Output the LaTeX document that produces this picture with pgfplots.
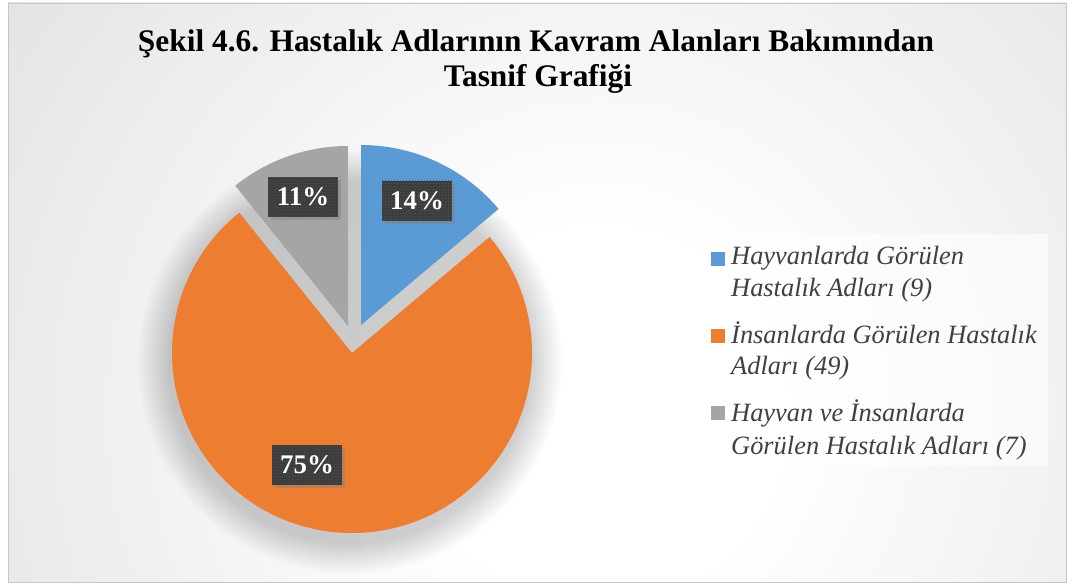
\documentclass[border=0pt]{standalone}
\usepackage{pgfplots}
\pgfplotsset{compat=1.18}
\usepackage{pgfplotstable}
\usepackage{fontspec}
\setmainfont{Liberation Serif}
\usetikzlibrary{shadows,patterns}
\definecolor{cblue}{HTML}{5B9BD5}
\definecolor{corange}{HTML}{ED7D31}
\definecolor{cgray}{HTML}{A5A5A5}
\definecolor{boxc}{HTML}{3D3D3D}
\definecolor{boxdot}{HTML}{585858}
\definecolor{legtext}{HTML}{404040}
\definecolor{bgout}{HTML}{BCBCBC}
\pgfdeclareradialshading{bgshade}{\pgfpoint{0bp}{0bp}}{color(0bp)=(white); color(6bp)=(white); color(50bp)=(bgout)}

% values and explode offsets (in bp) of the three slices
\pgfplotstableread{
name value dx dy
Hayvan 9 9 28
Insan 49 0 0
Ortak 7 -4 27
}\piedata

\pgfplotstablegetelem{0}{value}\of\piedata\edef\va{\pgfplotsretval}
\pgfplotstablegetelem{1}{value}\of\piedata\edef\vb{\pgfplotsretval}
\pgfplotstablegetelem{2}{value}\of\piedata\edef\vc{\pgfplotsretval}
\pgfplotstablegetelem{0}{dx}\of\piedata\edef\dxa{\pgfplotsretval}
\pgfplotstablegetelem{0}{dy}\of\piedata\edef\dya{\pgfplotsretval}
\pgfplotstablegetelem{1}{dx}\of\piedata\edef\dxb{\pgfplotsretval}
\pgfplotstablegetelem{1}{dy}\of\piedata\edef\dyb{\pgfplotsretval}
\pgfplotstablegetelem{2}{dx}\of\piedata\edef\dxc{\pgfplotsretval}
\pgfplotstablegetelem{2}{dy}\of\piedata\edef\dyc{\pgfplotsretval}
\pgfmathsetmacro\total{\va+\vb+\vc}
\pgfmathsetmacro\aone{90-360*(\va/\total)}
\pgfmathsetmacro\atwo{\aone-360*(\vb/\total)}
\pgfmathsetmacro\athree{\atwo-360*(\vc/\total)}
\def\cx{352}\def\cy{231}\def\R{180}
\pgfmathsetmacro\ax{\cx+\dxa}\pgfmathsetmacro\ay{\cy+\dya}
\pgfmathsetmacro\bx{\cx+\dxb}\pgfmathsetmacro\by{\cy+\dyb}
\pgfmathsetmacro\gx{\cx+\dxc}\pgfmathsetmacro\gy{\cy+\dyc}

\begin{document}
\begin{tikzpicture}
\useasboundingbox (0,0) rectangle (1072bp,584bp);
\fill[white] (0,0) rectangle (1072bp,584bp);
\begin{scope}
\clip (8bp,2bp) rectangle (1066bp,581bp);
\shade[shading=bgshade] (600bp,170bp) circle (760bp);
% soft shadow of the pie
\foreach \k in {1,...,16}{
  \fill[black, opacity=0.012] (350bp,222bp) circle[radius={(180+2*\k)*1bp}];
}
\end{scope}
\draw[color=black!22, line width=0.8bp] (8bp,2bp) rectangle (1066bp,581bp);

\begin{axis}[at={(0,0)}, anchor=south west, scale only axis,
  width=1072bp, height=584bp, xmin=0, xmax=1072, ymin=0, ymax=584,
  hide axis, clip=false]
% slices
\fill[corange] (axis cs:\bx,\by) -- ++(\aone:\R bp) arc[start angle=\aone, end angle=\atwo, radius=\R bp] -- cycle;
\fill[cblue] (axis cs:\ax,\ay) -- ++(90:\R bp) arc[start angle=90, end angle=\aone, radius=\R bp] -- cycle;
\fill[cgray] (axis cs:\gx,\gy) -- ++(\atwo:\R bp) arc[start angle=\atwo, end angle=\athree, radius=\R bp] -- cycle;

% data labels
\tikzset{plab/.style={fill=boxc, minimum width=70bp, minimum height=40bp, inner sep=0pt, text=white,
  font=\bfseries\fontsize{27}{30}\selectfont,
  postaction={pattern=dots, pattern color=boxdot},
  drop shadow={shadow xshift=3bp, shadow yshift=-3bp, opacity=0.45}}}
\node[plab] at (axis cs:417,383) {14\%};
\node[plab] at (axis cs:307,119) {75\%};
\node[plab] at (axis cs:303,387) {11\%};

% title
\node[anchor=base, font=\bfseries\fontsize{31.5}{35}\selectfont] at (axis cs:536,532) {Şekil 4.6. Hastalık Adlarının Kavram Alanları Bakımından};
\node[anchor=base, font=\bfseries\fontsize{31.5}{35}\selectfont] at (axis cs:538,497) {Tasnif Grafiği};

% legend
\fill[white, opacity=0.6] (axis cs:702,118) rectangle (axis cs:1048,350);
\fill[cblue] (axis cs:711,318) rectangle (axis cs:725,332);
\fill[corange] (axis cs:711,241) rectangle (axis cs:725,255);
\fill[cgray] (axis cs:711,164) rectangle (axis cs:725,178);
\tikzset{ltxt/.style={anchor=base west, inner sep=0pt, text=legtext, font=\itshape\fontsize{26.5}{32}\selectfont}}
\node[ltxt] at (axis cs:731,319) {Hayvanlarda Görülen};
\node[ltxt] at (axis cs:731,287) {Hastalık Adları (9)};
\node[ltxt] at (axis cs:731,240) {İnsanlarda Görülen Hastalık};
\node[ltxt] at (axis cs:731,209) {Adları (49)};
\node[ltxt] at (axis cs:731,162) {Hayvan ve İnsanlarda};
\node[ltxt] at (axis cs:731,129) {Görülen Hastalık Adları (7)};
\end{axis}
\end{tikzpicture}
\end{document}
